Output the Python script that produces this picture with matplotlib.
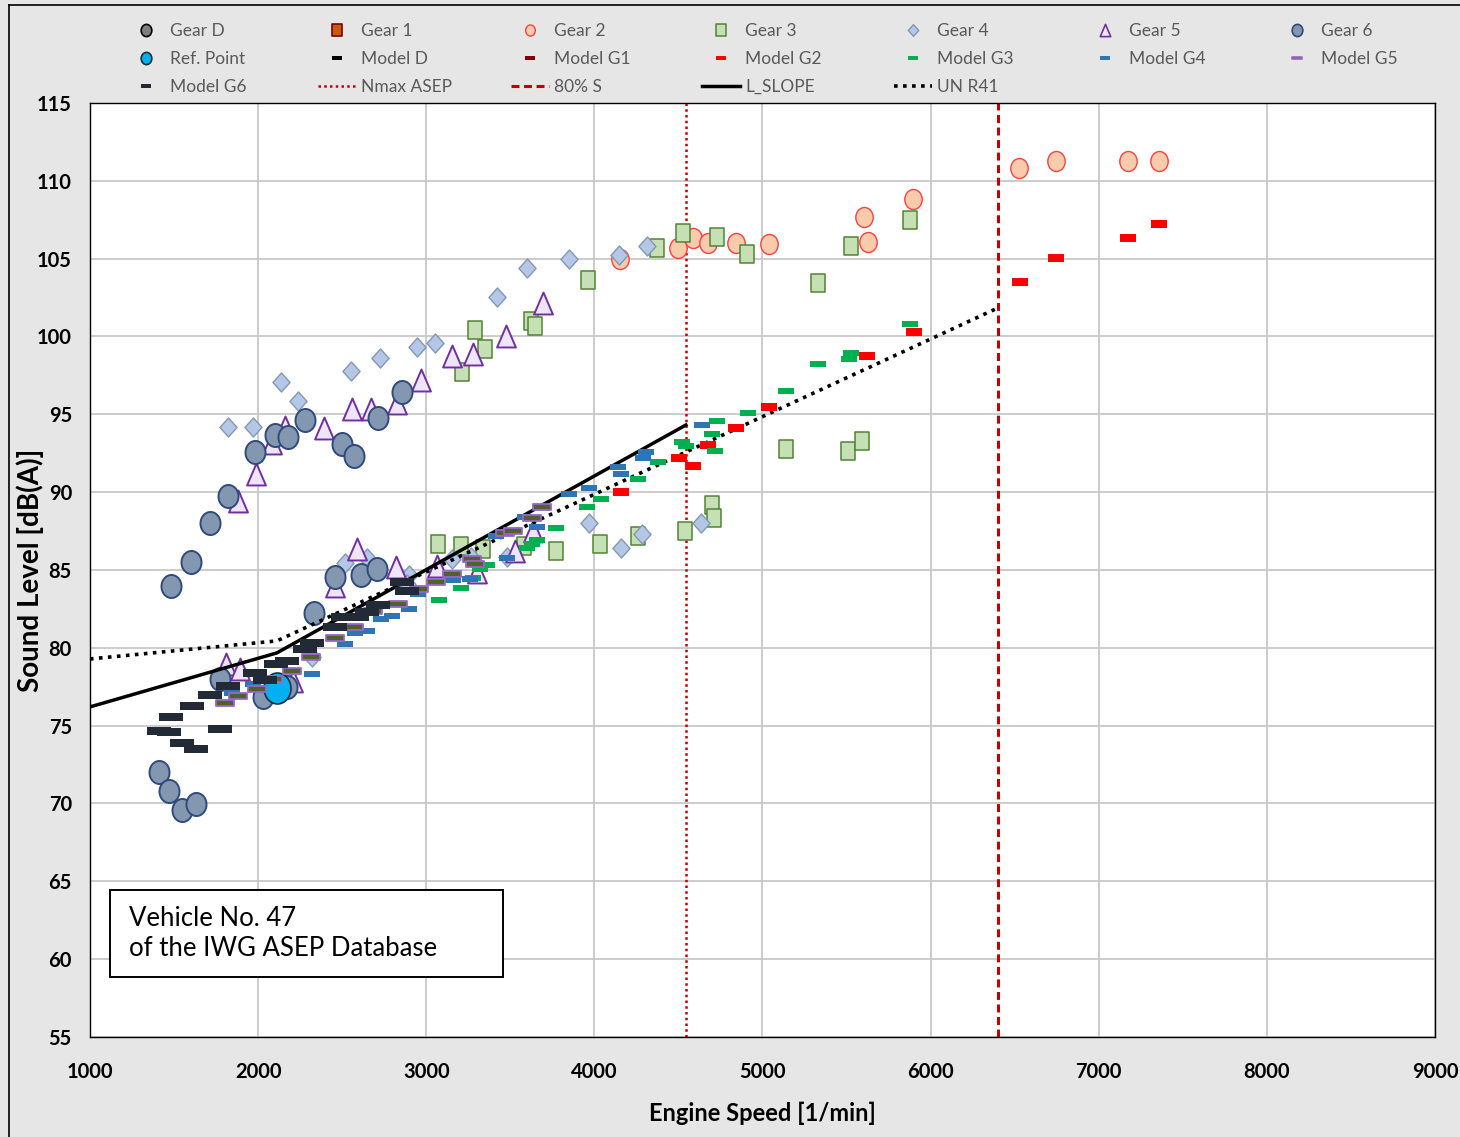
import matplotlib
matplotlib.use("Agg")
import matplotlib.pyplot as plt
from matplotlib.path import Path
from matplotlib.lines import Line2D
from matplotlib.patches import Rectangle

# Dane (obroty silnika [1/min], poziom dzwieku [dB(A)])
gear_d_rpm = []
gear_d_db = []
gear_1_rpm = []
gear_1_db = []

gear_2_rpm = [4153, 4498, 4587, 4676, 4843, 5039, 5628, 5604, 5896, 6526, 6746, 7175, 7359]
gear_2_db = [104.98, 105.69, 106.33, 106.01, 106.01, 105.94, 106.07, 107.68, 108.83, 110.82, 111.27, 111.27, 111.27]

gear_3_rpm = [3213, 3290, 3350, 3623, 3647, 3963, 4373, 4528, 4730, 4908, 5331, 5527, 5878,
              5140, 5509, 5592, 3070, 3207, 3338, 3582, 3772, 4034, 4260, 4540, 4700, 4712]
gear_3_db = [97.72, 100.42, 99.20, 101.00, 100.67, 103.63, 105.69, 106.65, 106.39, 105.30, 103.44, 105.81, 107.48,
             92.77, 92.64, 93.29, 86.67, 86.54, 86.35, 86.54, 86.22, 86.67, 87.18, 87.51, 89.18, 88.34]

gear_4_rpm = [1821, 1970, 2136, 2237, 2553, 2725, 2945, 3052, 3421, 3600, 3849, 4147, 4313,
              2517, 2648, 2898, 3153, 3266, 3481, 3968, 4159, 4284, 4635, 2321, 2886]
gear_4_db = [94.19, 94.19, 97.08, 95.86, 97.78, 98.62, 99.33, 99.58, 102.54, 104.40, 104.98, 105.24, 105.81,
             85.45, 85.77, 84.68, 85.71, 85.83, 85.83, 88.02, 86.41, 87.31, 88.02, 79.41, 84.10]

gear_5_rpm = [1809, 1892, 2208, 1880, 1988, 2083, 2160, 2392, 2559, 2672, 2826, 2969, 3153, 3278,
              3475, 3695, 2588, 2457, 2820, 3064, 3302, 3528, 3635]
gear_5_db = [78.96, 78.64, 77.87, 89.43, 91.17, 93.16, 94.19, 94.12, 95.34, 95.34, 95.73, 97.21, 98.75, 98.88,
             100.03, 102.15, 86.35, 83.97, 85.19, 85.26, 84.87, 86.22, 87.50]

gear_6_rpm = [1482, 1601, 1714, 1821, 1982, 2100, 2178, 2279, 2499, 2570, 2713, 2856,
              2457, 2612, 2707, 2332, 1773, 2029, 2172, 1410, 1470, 1547, 1631]
gear_6_db = [83.97, 85.51, 88.00, 89.75, 92.58, 93.67, 93.54, 94.64, 93.10, 92.32, 94.77, 96.44,
             84.55, 84.68, 85.06, 82.24, 78.00, 76.84, 77.50, 72.02, 70.80, 69.58, 69.97]

ref_rpm = [2112]
ref_db = [77.42]

model_d_rpm = []
model_d_db = []
model_g1_rpm = []
model_g1_db = []

model_g2_rpm = [6532, 6746, 7175, 7359, 5902, 5622, 5039, 4843, 4676, 4504, 4587, 4159]
model_g2_db = [103.50, 105.04, 106.33, 107.23, 100.29, 98.75, 95.47, 94.12, 93.03, 92.19, 91.68, 90.01]

model_g3_rpm = [3076, 3207, 3278, 3320, 3362, 3600, 3629, 3659, 3772, 3957, 4040, 4260,
                4379, 4522, 4545, 4700, 4718, 4730, 4914, 5140, 5331, 5515, 5527, 5878]
model_g3_db = [83.07, 83.84, 84.49, 85.06, 85.32, 86.41, 86.67, 86.93, 87.70, 89.05, 89.56, 90.85,
               91.94, 93.22, 92.97, 93.74, 92.64, 94.57, 95.09, 96.50, 98.23, 98.55, 98.94, 100.80]

model_g4_rpm = [4641, 4308, 4290, 4141, 4159, 3968, 3849, 3659, 3588, 3415, 3481, 3261,
                3159, 2951, 2898, 2797, 2731, 2517, 2576, 2648, 2321, 1845, 1970]
model_g4_db = [94.31, 92.58, 92.19, 91.62, 91.17, 90.27, 89.88, 87.76, 88.40, 87.18, 85.77, 84.42,
               84.36, 83.46, 82.49, 82.04, 81.85, 80.25, 80.95, 81.08, 78.32, 77.10, 77.68]

model_g5_rpm = [1803, 1880, 1993, 2089, 2202, 2315, 2457, 2570, 2683, 2832, 2957, 3058,
                3153, 3272, 3290, 3469, 3516, 3629, 3689]
model_g5_db = [76.46, 76.91, 77.35, 78.00, 78.51, 79.41, 80.63, 81.34, 82.37, 82.82, 83.78, 84.23,
               84.74, 85.71, 85.39, 87.38, 87.50, 88.34, 89.05]

model_g6_rpm = [1410, 1470, 1482, 1547, 1607, 1631, 1714, 1773, 1821, 1982, 2041, 2106,
                2172, 2279, 2321, 2457, 2505, 2588, 2648, 2713, 2856, 2886]
model_g6_db = [74.66, 74.59, 75.56, 73.89, 76.26, 73.50, 76.97, 74.79, 77.55, 78.38, 77.93, 78.96,
               79.15, 79.92, 80.31, 81.34, 81.98, 81.98, 82.30, 82.75, 84.23, 83.65]

l_slope_rpm = [1000, 2112, 4545]
l_slope_db = [76.20, 79.67, 94.31]
un_r41_rpm = [1000, 2112, 6401]
un_r41_db = [79.28, 80.44, 101.83]

n_max_asep = 4545
s_80 = 6401

x_ticks = list(range(1000, 9001, 1000))
y_ticks = list(range(55, 116, 5))

# Calibri nie jest dostepne - Lato jest najblizsze
plt.rcParams['font.family'] = ['Lato', 'DejaVu Sans']


def sciezka(punkty):
    """Zamknieta sciezka markera z listy wierzcholkow."""
    kody = [Path.MOVETO] + [Path.LINETO] * (len(punkty) - 1) + [Path.CLOSEPOLY]
    return Path(punkty + [punkty[0]], kody)


def elipsa(sx=0.87):
    okrag = Path.unit_circle()
    return Path(okrag.vertices * [sx, 1.0], okrag.codes)


def kreska(h):
    return sciezka([(-1, -h), (1, -h), (1, h), (-1, h)])


m_elipsa = elipsa(0.87)
m_kwadrat = sciezka([(-0.83, -1), (0.83, -1), (0.83, 1), (-0.83, 1)])
m_romb = sciezka([(0, 1), (0.9, 0), (0, -1), (-0.9, 0)])
m_trojkat = sciezka([(0, 1), (-0.86, -1), (0.86, -1)])

# styl kazdej serii: marker, rozmiar, wypelnienie, obrys, grubosc obrysu, rozmiar w legendzie
styl = {
    'Gear D': (m_elipsa, 16.6, '#7f7f7f', 'black', 1.6, 8.8),
    'Gear 1': (m_kwadrat, 13, '#c55a11', '#7f0000', 1.6, 8.8),
    'Gear 2': (m_elipsa, 14.4, '#f8cbad', '#ff4040', 1.0, 8.0),
    'Gear 3': (m_kwadrat, 13, '#c5e0b4', '#548235', 1.1, 8.4),
    'Gear 4': (m_romb, 13.7, '#b4c7e7', '#8497b0', 1.0, 8.4),
    'Gear 5': (m_trojkat, 15.8, '#efe5fb', '#7030a0', 1.4, 8.8),
    'Gear 6': (m_elipsa, 16.6, '#8497b0', '#2f4b7c', 1.4, 8.8),
    'Ref. Point': (m_elipsa, 22.3, '#00b0f0', '#1f2d3d', 1.2, 8.8),
    'Model D': (kreska(0.42), 12.2, 'black', 'black', 0, 7.0),
    'Model G1': (kreska(0.42), 12.2, '#7f0000', '#7f0000', 0, 7.0),
    'Model G2': (kreska(0.42), 12.2, '#ff0000', '#ff0000', 0, 7.0),
    'Model G3': (kreska(0.38), 12.0, '#00b050', '#00b050', 0, 7.0),
    'Model G4': (kreska(0.38), 12.0, '#2e75b6', '#2e75b6', 0, 7.0),
    'Model G5': (kreska(0.30), 13.0, '#4f6228', '#9966cc', 1.3, 7.0),
    'Model G6': (kreska(0.31), 16.6, '#222a35', '#222a35', 0, 7.0),
}


def seria(ax, x, y, nazwa, z):
    marker, ms, fc, ec, ew, _ = styl[nazwa]
    return ax.plot(x, y, ls='none', marker=marker, ms=ms, mfc=fc, mec=ec, mew=ew,
                   label=nazwa, zorder=z)[0]


def uchwyt_legendy(nazwa):
    marker, _, fc, ec, ew, ms_leg = styl[nazwa]
    return Line2D([], [], ls='none', marker=marker, ms=ms_leg, mfc=fc, mec=ec,
                  mew=min(ew, 1.2), label=nazwa)


fig = plt.figure(figsize=(14.6, 11.37), dpi=100, facecolor='#e6e6e6')
ax = fig.add_axes([0.0616, 0.0880, 0.9212, 0.8215])
ax.set_facecolor('white')

# Linie pionowe
h_nmax = ax.axvline(n_max_asep, color='#c00000', lw=1.8, ls=(0, (1, 1.3)), zorder=2, label='Nmax ASEP')
h_s80 = ax.axvline(s_80, color='#c00000', lw=2.2, ls=(0, (2.6, 1.5)), zorder=2, label='80% S')

# Punkty pomiarowe
seria(ax, gear_d_rpm, gear_d_db, 'Gear D', 3)
seria(ax, gear_1_rpm, gear_1_db, 'Gear 1', 3)
seria(ax, gear_2_rpm, gear_2_db, 'Gear 2', 3)
seria(ax, gear_3_rpm, gear_3_db, 'Gear 3', 3)
seria(ax, gear_4_rpm, gear_4_db, 'Gear 4', 3)
seria(ax, gear_5_rpm, gear_5_db, 'Gear 5', 3)
seria(ax, gear_6_rpm, gear_6_db, 'Gear 6', 3)
seria(ax, ref_rpm, ref_db, 'Ref. Point', 3)

# Linie graniczne
h_slope, = ax.plot(l_slope_rpm, l_slope_db, color='black', lw=2.5, zorder=4, label='L_SLOPE')
h_r41, = ax.plot(un_r41_rpm, un_r41_db, color='black', lw=2.6, ls=(0, (1, 1.5)), zorder=4, label='UN R41')

# Wartosci modelowe
seria(ax, model_d_rpm, model_d_db, 'Model D', 5)
seria(ax, model_g1_rpm, model_g1_db, 'Model G1', 5)
seria(ax, model_g2_rpm, model_g2_db, 'Model G2', 5)
seria(ax, model_g3_rpm, model_g3_db, 'Model G3', 5)
seria(ax, model_g4_rpm, model_g4_db, 'Model G4', 5)
seria(ax, model_g5_rpm, model_g5_db, 'Model G5', 5)
seria(ax, model_g6_rpm, model_g6_db, 'Model G6', 5)

ax.set_xlim(1000, 9000)
ax.set_ylim(55, 115)
ax.set_xticks(x_ticks)
ax.set_yticks(y_ticks)
ax.tick_params(length=0, labelsize=14.5)
ax.tick_params(axis='x', pad=18)
ax.tick_params(axis='y', pad=13)
for lab in ax.get_xticklabels() + ax.get_yticklabels():
    lab.set_fontweight('bold')
ax.grid(True, color='#c8c8c8', lw=1.3)
ax.set_axisbelow(True)
for sp in ax.spines.values():
    sp.set_color('black')
    sp.set_linewidth(1.0)

ax.set_xlabel('Engine Speed [1/min]', fontsize=17, fontweight='bold', labelpad=14)
ax.set_ylabel('Sound Level [dB(A)]', fontsize=20, fontweight='bold')
ax.yaxis.set_label_coords(-0.0345, 0.5)

# Ramka z opisem pojazdu
ax.add_patch(Rectangle((0.0149, 0.0642), 0.2922, 0.0931, transform=ax.transAxes,
                       facecolor='white', edgecolor='black', lw=1.4, zorder=6))
ax.text(0.029, 0.1108, 'Vehicle No. 47\nof the IWG ASEP Database', transform=ax.transAxes,
        fontsize=18.5, va='center', ha='left', linespacing=1.28, zorder=7)

# Legenda: 7 kolumn ustawionych recznie
wiersze = [
    [uchwyt_legendy(n) for n in ['Gear D', 'Gear 1', 'Gear 2', 'Gear 3', 'Gear 4', 'Gear 5', 'Gear 6']],
    [uchwyt_legendy(n) for n in ['Ref. Point', 'Model D', 'Model G1', 'Model G2', 'Model G3',
                                 'Model G4', 'Model G5']],
    [uchwyt_legendy('Model G6'), h_nmax, h_s80, h_slope, h_r41],
]
kolumny_x = [127, 318, 511, 702, 894, 1086, 1278]
for c, x0 in enumerate(kolumny_x):
    uchwyty = [w[c] for w in wiersze if c < len(w)]
    fig.legend(uchwyty, [u.get_label() for u in uchwyty], loc='upper left',
               bbox_to_anchor=(x0 / 1460, 1 - 23 / 1137), frameon=False,
               borderpad=0, borderaxespad=0, handlelength=2.2, handletextpad=0.3,
               labelspacing=0.68, fontsize=12.5, labelcolor='#595959')

# Krawedzie wycietego obrazu
fig.add_artist(Line2D([9 / 1460, 9 / 1460], [0, 1 - 5 / 1137], color='black', lw=1.2,
                      transform=fig.transFigure))
fig.add_artist(Line2D([9 / 1460, 1], [1 - 5 / 1137, 1 - 5 / 1137], color='black', lw=1.2,
                      transform=fig.transFigure))

fig.savefig('out.png', dpi=100, facecolor=fig.get_facecolor())
